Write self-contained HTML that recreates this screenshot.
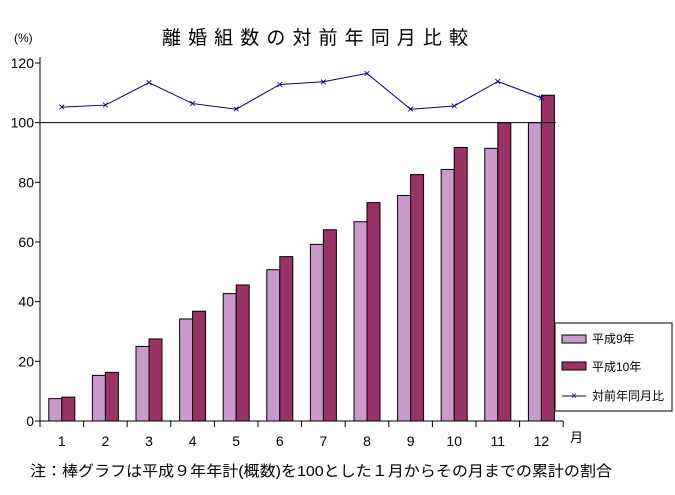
<!DOCTYPE html>
<html><head><meta charset="utf-8"><style>
body{margin:0;background:#fff;font-family:"Liberation Sans","Noto Sans CJK JP",sans-serif}
svg text{font-family:"Liberation Sans","Noto Sans CJK JP",sans-serif}
</style></head><body>
<svg id="c" width="675" height="490" xmlns="http://www.w3.org/2000/svg">
<text x="162" y="44" font-size="19" textLength="306" lengthAdjust="spacing">離婚組数の対前年同月比較</text>
<text x="14" y="42" font-size="12">(%)</text>
<text x="570" y="442" font-size="13">月</text>
<text x="30" y="476" font-size="15" textLength="582" lengthAdjust="spacingAndGlyphs">注：棒グラフは平成９年年計(概数)を100とした１月からその月までの累計の割合</text>
<g id="g"></g>
<g>
<rect x="555" y="323" width="117" height="88" fill="#fff" stroke="#000"/>
<rect x="562" y="335" width="24" height="8" fill="#cc99cc" stroke="#000"/>
<text x="592" y="343" font-size="12">平成9年</text>
<rect x="562" y="362" width="24" height="8" fill="#993366" stroke="#000"/>
<text x="592" y="371" font-size="12">平成10年</text>
<line x1="562" y1="396" x2="586" y2="396" stroke="#000080"/>
<text x="574" y="399" font-size="10" fill="#000080" text-anchor="middle">×</text>
<text x="592" y="400" font-size="12">対前年同月比</text>
</g>
</svg>
<script>
const categories=["1","2","3","4","5","6","7","8","9","10","11","12"];
const h9=[7.5,15.3,25,34.2,42.7,50.7,59.2,66.8,75.6,84.3,91.4,100];
const h10=[8,16.3,27.5,36.8,45.6,55.1,64.1,73.2,82.6,91.7,100,109.2];
const ratio=[105.2,105.9,113.4,106.4,104.5,112.8,113.7,116.5,104.5,105.6,113.8,108.3];
const yTicks=[0,20,40,60,80,100,120];
const NS="http://www.w3.org/2000/svg",g=document.getElementById('g');
const X0=40,CW=43.6,Y0=421,K=(421-63)/120;
const y=v=>Y0-v*K, xc=i=>X0+CW*(i+0.5);
function mk(t,a,p){const e=document.createElementNS(NS,t);for(const k in a)e.setAttribute(k,a[k]);(p||g).appendChild(e);return e;}
yTicks.forEach(v=>{
 const t=mk('text',{x:34,y:y(v)+5,'font-size':14,'text-anchor':'end'});t.textContent=v;
 
 
 mk('line',{x1:35,x2:40,y1:y(v),y2:y(v),stroke:'#000'});
});
categories.forEach((c,i)=>{
 const b1=mk('rect',{x:xc(i)-13,y:y(h9[i]),width:13,height:h9[i]*K,fill:'#cc99cc',stroke:'#000'});
 
 
 const b2=mk('rect',{x:xc(i),y:y(h10[i]),width:13,height:h10[i]*K,fill:'#993366',stroke:'#000'});
 
 
 const t=mk('text',{x:xc(i),y:446,'font-size':14,'text-anchor':'middle'});t.textContent=c;
 
 
});
for(let i=0;i<=12;i++)mk('line',{x1:X0+CW*i,x2:X0+CW*i,y1:Y0,y2:Y0+6,stroke:'#000'});
mk('line',{x1:40,x2:40,y1:57,y2:Y0,stroke:'#000'});
mk('line',{x1:40,x2:X0+CW*12,y1:Y0,y2:Y0,stroke:'#000'});
mk('line',{x1:40,x2:556,y1:y(100),y2:y(100),stroke:'#000'});
const pl=mk('polyline',{points:ratio.map((v,i)=>xc(i)+','+y(v)).join(' '),fill:'none',stroke:'#000080'});


ratio.forEach((v,i)=>{
 const m=mk('text',{x:xc(i),y:y(v)+4,'font-size':12,fill:'#000080','text-anchor':'middle'});m.textContent='×';
 
 
});
</script>
</body></html>
